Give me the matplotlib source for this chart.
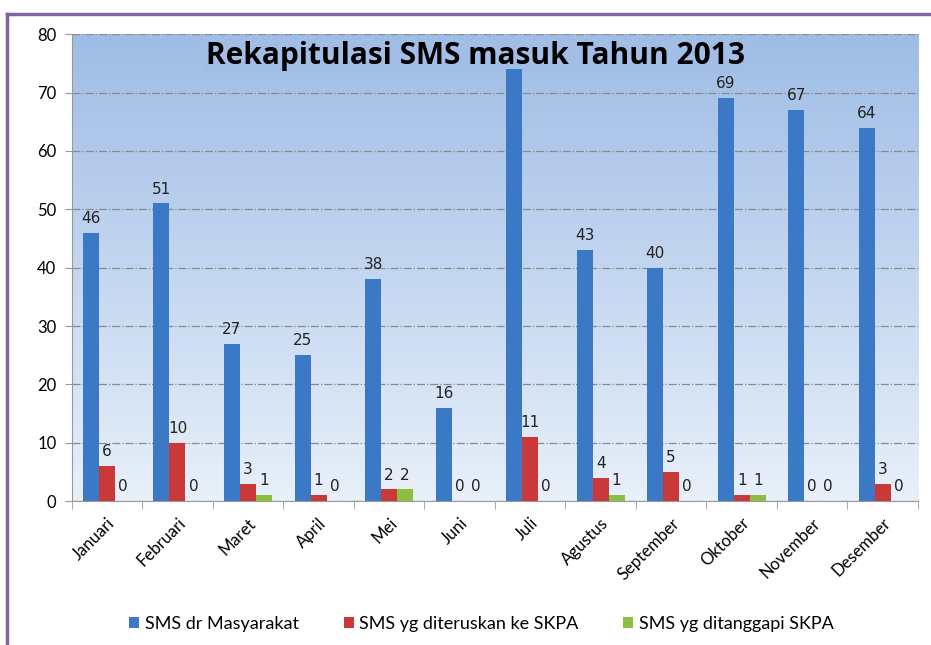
import matplotlib.pyplot as plt
import numpy as np
from matplotlib.lines import Line2D

# Data
months = ['Januari', 'Februari', 'Maret', 'April', 'Mei', 'Juni', 'Juli',
          'Agustus', 'September', 'Oktober', 'November', 'Desember']
sms_masyarakat = [46, 51, 27, 25, 38, 16, 74, 43, 40, 69, 67, 64]
sms_diteruskan = [6, 10, 3, 1, 2, 0, 11, 4, 5, 1, 0, 3]
sms_ditanggapi = [0, 0, 1, 0, 2, 0, 0, 1, 0, 1, 0, 0]
series_names = ['SMS dr Masyarakat', 'SMS yg diteruskan ke SKPA', 'SMS yg ditanggapi SKPA']

plt.rcParams['font.family'] = ['DejaVu Sans']

fig = plt.figure(figsize=(9.31, 6.45), dpi=100)
ax = fig.add_axes([0.077, 0.223, 0.909, 0.724])

x = np.arange(len(months))
w = 0.227

# gradient background of the plot area
grad = np.linspace(0, 1, 256).reshape(-1, 1)
top = np.array([0.62, 0.74, 0.90])
bot = np.array([0.91, 0.94, 0.98])
img = top + (bot - top) * grad[:, :, None]
ax.imshow(img, extent=[0, 1, 0, 1], transform=ax.transAxes, aspect='auto', zorder=0)

b1 = ax.bar(x - w, sms_masyarakat, w, color='#3b78c6', label=series_names[0], zorder=3)
b2 = ax.bar(x, sms_diteruskan, w, color='#c9393a', label=series_names[1], zorder=3)
b3 = ax.bar(x + w, sms_ditanggapi, w, color='#8cbf3f', label=series_names[2], zorder=3)

for bars in [b1, b2, b3]:
    for bar in bars:
        h = bar.get_height()
        ax.annotate(f'{h:.0f}', xy=(bar.get_x() + bar.get_width() / 2, h),
                    xytext=(0, 5), textcoords='offset points',
                    ha='center', va='bottom', fontsize=11, color='#222222', zorder=2.5)

ax.set_xlim(-0.5, len(months) - 0.5)
ax.set_ylim(0, 80)
ax.set_yticks(np.arange(0, 81, 10))
ax.yaxis.grid(True, color='#8a8a8a', linestyle='-.', linewidth=0.9, zorder=1)
ax.set_axisbelow(True)

ax.set_xticks(x)
ax.set_xticklabels(months, rotation=45, ha='right', rotation_mode='anchor',
                   fontsize=12, family=['Lato', 'DejaVu Sans'])
ax.tick_params(axis='x', length=0, pad=10)
ax.set_xticks(np.arange(-0.5, len(months)), minor=True)
ax.tick_params(axis='x', which='minor', length=6, color='#999999')
ax.tick_params(axis='y', length=5, color='#999999', labelsize=12, pad=6)
for lab in ax.get_yticklabels():
    lab.set_family(['Lato', 'DejaVu Sans'])

for s in ['top', 'right']:
    ax.spines[s].set_visible(False)
for s in ['left', 'bottom']:
    ax.spines[s].set_color('#999999')

# title sits inside the plot area and covers the tallest label (bars stay in front)
ax.text(0.477, 0.985, 'Rekapitulasi SMS masuk Tahun 2013', transform=ax.transAxes,
        ha='center', va='top', fontsize=21.5, fontweight='bold',
        family=['Open Sans', 'DejaVu Sans'], zorder=2.8,
        bbox=dict(boxstyle='square,pad=0.05', facecolor='#a2bee6', edgecolor='none'))

fig.legend(handles=[b1, b2, b3], labels=series_names, loc='lower center',
           bbox_to_anchor=(0.517, -0.005), ncol=3, frameon=False,
           handlelength=0.55, handleheight=0.55, columnspacing=2.5, handletextpad=0.3,
           prop={'family': ['Lato', 'DejaVu Sans'], 'size': 13})

# purple frame
fig.add_artist(Line2D([0.008, 1.0], [0.978, 0.978], transform=fig.transFigure,
                      color='#8064a2', linewidth=2.5))
fig.add_artist(Line2D([0.008, 0.008], [0.0, 0.978], transform=fig.transFigure,
                      color='#8064a2', linewidth=2.5))

plt.savefig('out.png', dpi=100)
